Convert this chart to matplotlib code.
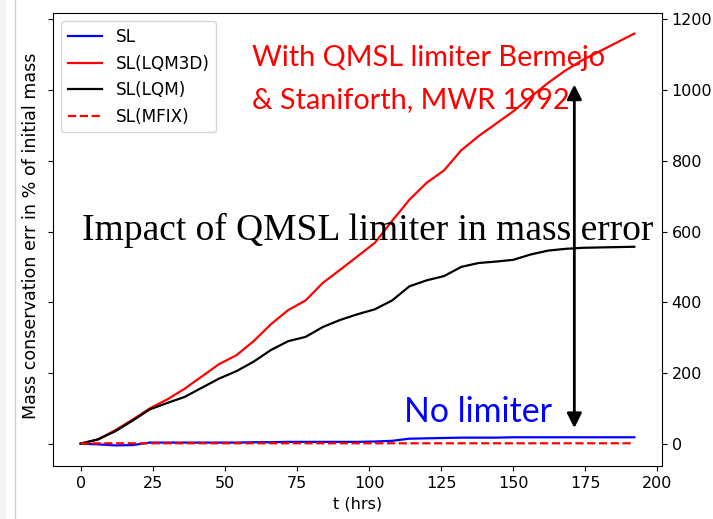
import matplotlib
matplotlib.use("Agg")
import matplotlib.pyplot as plt
from matplotlib.patches import Rectangle
from matplotlib.lines import Line2D

# Forecast hours (6-hourly output)
t_hrs = list(range(0, 193, 6))

# Mass conservation error (% of initial mass)
sl = [0, -2, -5, -4, 3, 3, 3, 3, 3, 3, 4, 4, 5, 5, 5, 5, 5, 6, 8, 14, 15,
      16, 17, 17, 17, 18, 18, 18, 18, 18, 18, 18, 18]
sl_lqm3d = [0, 12, 38, 68, 100, 125, 155, 190, 225, 250, 290, 338, 378, 405,
            455, 492, 530, 568, 630, 690, 738, 773, 830, 870, 905, 940, 980,
            1020, 1055, 1085, 1110, 1135, 1160]
sl_lqm = [0, 12, 35, 65, 97, 115, 132, 158, 184, 205, 232, 265, 290, 302,
          330, 350, 366, 380, 405, 445, 462, 474, 500, 511, 515, 520, 535,
          546, 551, 554, 555, 556, 557]
sl_mfix = [0] + [1] * 32

series_labels = ["SL", "SL(LQM3D)", "SL(LQM)", "SL(MFIX)"]

W, H = 713, 519
plt.rcParams["font.size"] = 11.5

fig = plt.figure(figsize=(W / 100, H / 100), dpi=100)
ax = fig.add_axes([53 / W, 1 - 466 / H, 609 / W, 453 / H])

ax.plot(t_hrs, sl, color="blue", lw=1.6, label=series_labels[0])
ax.plot(t_hrs, sl_lqm3d, color="red", lw=1.6, label=series_labels[1])
ax.plot(t_hrs, sl_lqm, color="black", lw=1.6, label=series_labels[2])
ax.plot(t_hrs, sl_mfix, color="red", lw=1.6, ls="--", label=series_labels[3])

ax.set_xticks([0, 25, 50, 75, 100, 125, 150, 175, 200])
ax.set_yticks([0, 200, 400, 600, 800, 1000, 1200])
ax.tick_params(axis="y", left=True, labelleft=False, right=True, labelright=True)
ax.set_xlabel("t (hrs)")
ax.set_ylabel("Mass conservation err in % of initial mass", fontsize=12.6)
ax.yaxis.set_label_coords(-13 / 609, 0.508)
ax.legend(loc="upper left", fontsize=12.2)


def px(x, y):
    """Figure-fraction coordinates from pixel position (origin top-left)."""
    return x / W, 1 - y / H


# Annotations
fig.text(*px(252, 66), "With QMSL limiter Bermejo", color="red",
         fontsize=20.8, family="Lato", va="baseline")
fig.text(*px(252, 108.5), "& Staniforth, MWR 1992", color="red",
         fontsize=20.8, family="Lato", va="baseline")
fig.text(*px(82, 240), "Impact of QMSL limiter in mass error", color="black",
         fontsize=27, family="Liberation Serif", va="baseline")
fig.text(*px(404, 421.5), "No limiter", color="blue",
         fontsize=24.4, family="Lato", va="baseline")

ax.annotate("", xy=(171.2, 1016), xytext=(171.2, 44),
            arrowprops=dict(arrowstyle="<|-|>", color="black", lw=2,
                            mutation_scale=22, shrinkA=0, shrinkB=0))

# Notebook cell frame on the left edge
fig.patches.append(Rectangle((0, 0), 6 / W, 1, transform=fig.transFigure,
                             facecolor="#f2f2f2", edgecolor="none"))
fig.lines.append(Line2D([14.5 / W, 14.5 / W], [0, 1], transform=fig.transFigure,
                        color="#d0d0d0", lw=1))

fig.savefig("out.png", dpi=100)
